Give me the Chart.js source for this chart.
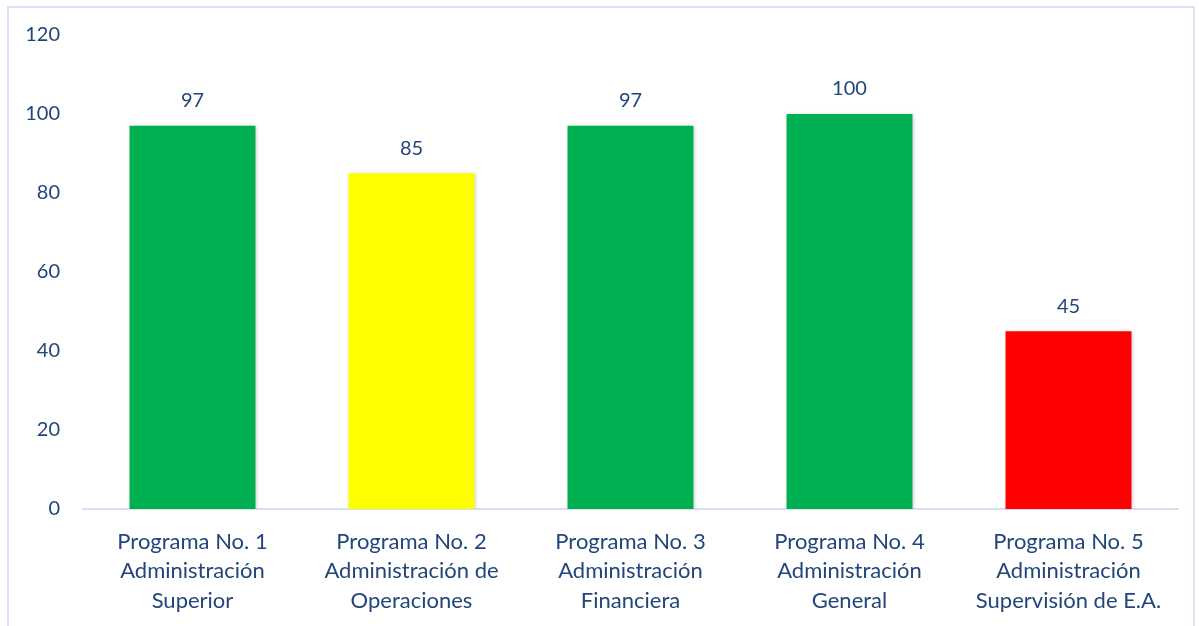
<!DOCTYPE html>
<html>
<head>
<meta charset="utf-8">
<script src="https://cdn.jsdelivr.net/npm/chart.js@4/dist/chart.umd.min.js"></script>
<style>
  html, body { margin: 0; padding: 0; background: #fff; }
  #wrap { position: relative; width: 1199px; height: 626px; overflow: hidden; }
  #frame {
    position: absolute; left: 7px; top: 6px; width: 1188px; height: 640px;
    border: 2px solid #dae3f3; box-sizing: border-box;
  }
  canvas { position: absolute; left: 0; top: 0; }
</style>
</head>
<body>
<div id="wrap">
  <div id="frame"></div>
  <canvas id="chart" width="1199" height="626"></canvas>
</div>
<script>
// categorías (cada una en varias líneas, como en el original)
const programas = [
  ["Programa No. 1", "Administración", "Superior"],
  ["Programa No. 2", "Administración de", "Operaciones"],
  ["Programa No. 3", "Administración", "Financiera"],
  ["Programa No. 4", "Administración", "General"],
  ["Programa No. 5", "Administración", "Supervisión de E.A."],
];
const valores = [97, 85, 97, 100, 45];
const colores = ["#00b050", "#ffff00", "#00b050", "#00b050", "#ff0000"];
const yTicks = [0, 20, 40, 60, 80, 100, 120];

const textColor = "#22467c";
const fontFamily = "Lato, 'Open Sans', sans-serif";

// etiquetas encima de cada barra
const valueLabels = {
  id: "valueLabels",
  afterDatasetsDraw(chart) {
    const ctx = chart.ctx;
    const meta = chart.getDatasetMeta(0);
    ctx.save();
    ctx.fillStyle = textColor;
    ctx.font = "20px " + fontFamily;
    ctx.textAlign = "center";
    ctx.textBaseline = "bottom";
    meta.data.forEach((bar, i) => {
      ctx.fillText(String(valores[i]), bar.x, bar.y - 15);
    });
    ctx.restore();
  },
};

// sombra suave de las barras
const barShadow = {
  id: "barShadow",
  beforeDatasetsDraw(chart) {
    const ctx = chart.ctx;
    ctx.save();
    ctx.shadowColor = "rgba(0,0,0,0.25)";
    ctx.shadowBlur = 4;
    ctx.shadowOffsetX = 1;
    ctx.shadowOffsetY = 1;
  },
  afterDatasetsDraw(chart) {
    chart.ctx.restore();
  },
};

new Chart(document.getElementById("chart"), {
  type: "bar",
  data: {
    labels: programas,
    datasets: [
      {
        data: valores,
        backgroundColor: colores,
        borderWidth: 0,
        categoryPercentage: 1,
        barPercentage: 0.575,
      },
    ],
  },
  options: {
    responsive: false,
    animation: false,
    devicePixelRatio: 1,
    layout: { padding: { top: 35, right: 21, left: 0, bottom: 0 } },
    plugins: {
      legend: { display: false },
      tooltip: { enabled: false },
    },
    scales: {
      x: {
        grid: { display: false, drawTicks: false },
        border: { display: true, color: "#d6e0f0", width: 2 },
        ticks: {
          color: textColor,
          font: { family: fontFamily, size: 22, lineHeight: 1.34 },
          padding: 18,
          maxRotation: 0,
          autoSkip: false,
        },
        afterFit: (scale) => { scale.height = 117; },
      },
      y: {
        min: 0,
        max: 120,
        afterBuildTicks: (scale) => {
          scale.ticks = yTicks.map((v) => ({ value: v }));
        },
        grid: { display: false, drawTicks: false },
        border: { display: false },
        ticks: {
          color: textColor,
          font: { family: fontFamily, size: 20 },
          padding: 23,
        },
        afterFit: (scale) => { scale.width = 83; },
      },
    },
  },
  plugins: [barShadow, valueLabels],
});
</script>
</body>
</html>
